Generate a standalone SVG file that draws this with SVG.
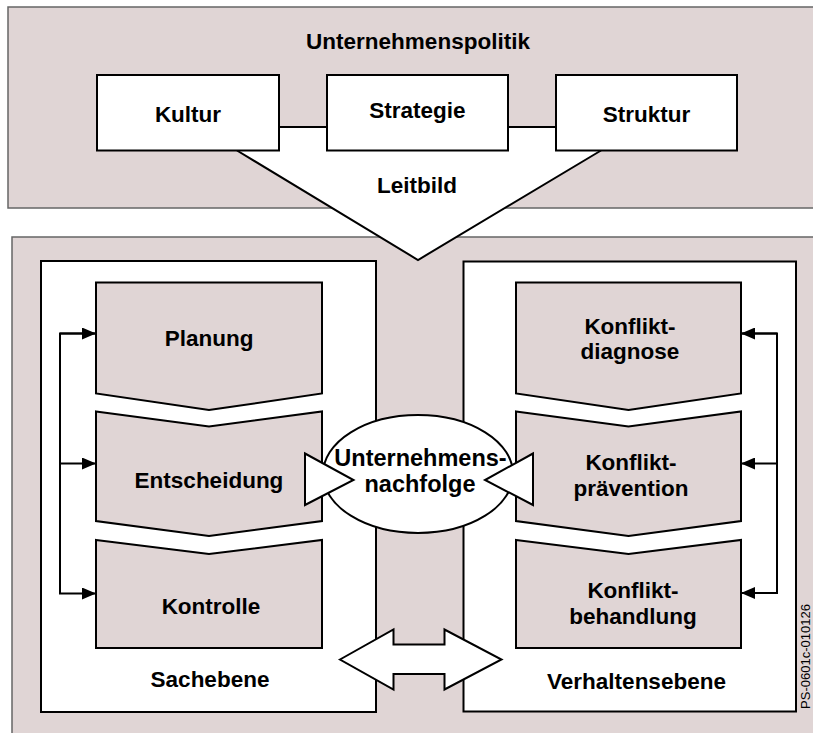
<svg xmlns="http://www.w3.org/2000/svg" width="813" height="733" viewBox="0 0 813 733">
<style>
.panel{fill:#e0d5d5;stroke:#666;stroke-width:1.5}
.wbox{fill:#fff;stroke:#000;stroke-width:2}
.pbox{fill:#e0d5d5;stroke:#000;stroke-width:2;stroke-linejoin:miter}
.t{font-family:"Liberation Sans",Arial,sans-serif;font-weight:bold;font-size:22.5px;fill:#000;text-anchor:middle}
.ln{fill:none;stroke:#000;stroke-width:2}
</style>
<defs>
<marker id="ah" markerWidth="14" markerHeight="12" refX="14" refY="6" orient="auto" markerUnits="userSpaceOnUse">
<path d="M0,0 L14,6 L0,12 Z" fill="#000"/>
</marker>
</defs>
<rect width="813" height="733" fill="#fff"/>
<g id="panel-top">
<rect class="panel" x="8" y="7" width="815" height="201"/>
<text class="t" x="418" y="49">Unternehmenspolitik</text>
</g>
<g id="panel-bottom">
<rect class="panel" x="12" y="237" width="811" height="510"/>
</g>
<g id="leitbild">
<polygon points="237,150.5 237,127 601,127 601,150.5 418,260" fill="#fff"/>
<polyline class="ln" points="237,150.5 418,260 601,150.5" stroke-width="1.5"/>
<text class="t" x="417" y="193">Leitbild</text>
</g>
<g id="sachebene">
<rect class="wbox" x="41" y="261" width="335" height="451"/>
<text class="t" x="210" y="687">Sachebene</text>
</g>
<g id="verhaltensebene">
<rect class="wbox" x="463.5" y="261.5" width="332.5" height="450"/>
<text class="t" x="636.5" y="689">Verhaltensebene</text>
</g>
<g id="kultur">
<rect class="wbox" x="97" y="75" width="182" height="75.5"/>
<text class="t" x="188" y="121.5">Kultur</text>
</g>
<g id="strategie">
<rect class="wbox" x="327" y="75" width="181" height="75.5"/>
<text class="t" x="417.5" y="117.5">Strategie</text>
</g>
<g id="struktur">
<rect class="wbox" x="556" y="75" width="181" height="75.5"/>
<text class="t" x="646.5" y="121.5">Struktur</text>
</g>
<g id="planung">
<polygon class="pbox" points="96,282.5 322,282.5 322,393.5 209,410 96,393.5"/>
<text class="t" x="209" y="346">Planung</text>
</g>
<g id="entscheidung">
<polygon class="pbox" points="96,411.5 209,426.5 322,411.5 322,521 209,536 96,521"/>
<text class="t" x="209" y="488">Entscheidung</text>
</g>
<g id="kontrolle">
<polygon class="pbox" points="96,540 209,554 322,540 322,648 96,648"/>
<text class="t" x="211" y="613.5">Kontrolle</text>
</g>
<g id="konfliktdiagnose">
<polygon class="pbox" points="516,282.5 741,282.5 741,393.5 628.5,410 516,393.5"/>
<text class="t" x="630" y="333.5">Konflikt-</text>
<text class="t" x="630" y="358.5">diagnose</text>
</g>
<g id="konfliktpraevention">
<polygon class="pbox" points="516,411.5 628.5,426.5 741,411.5 741,521 628.5,536 516,521"/>
<text class="t" x="631" y="470">Konflikt-</text>
<text class="t" x="631" y="495.5">prävention</text>
</g>
<g id="konfliktbehandlung">
<polygon class="pbox" points="516,540 628.5,554 741,540 741,648 516,648"/>
<text class="t" x="633" y="597.5">Konflikt-</text>
<text class="t" x="633" y="623.5">behandlung</text>
</g>
<g id="connectors">
<line class="ln" x1="279" y1="127" x2="327" y2="127"/>
<line class="ln" x1="508" y1="127" x2="556" y2="127"/>
<path class="ln" d="M96,333.5 H60 V593.5 H96" marker-end="url(#ah)"/>
<path class="ln" d="M60,333.5 H96" marker-end="url(#ah)"/>
<path class="ln" d="M60,463.5 H96" marker-end="url(#ah)"/>
<path class="ln" d="M741,333.5 H777 V593 H741" marker-end="url(#ah)"/>
<path class="ln" d="M777,333.5 H741" marker-end="url(#ah)"/>
<path class="ln" d="M777,463.5 H741" marker-end="url(#ah)"/>
<polygon id="doppelpfeil" points="340,659.5 393.5,629.5 393.5,644.5 444.5,644.5 444.5,629.5 501.5,659.5 444.5,689.5 444.5,674 393.5,674 393.5,689.5" fill="#fff" stroke="#000" stroke-width="2" stroke-linejoin="miter"/>
</g>
<g id="unternehmensnachfolge">
<ellipse cx="418" cy="474" rx="95" ry="59" fill="#fff" stroke="#000" stroke-width="2"/>
<polygon points="305,453.5 353.5,480 305,505" fill="#fff" stroke="#000" stroke-width="2"/>
<polygon points="533,453.5 485,480 533,505" fill="#fff" stroke="#000" stroke-width="2"/>
<text class="t" x="420.5" y="465.5" style="font-size:23.5px">Unternehmens-</text>
<text class="t" x="420" y="491.5" style="font-size:23.5px">nachfolge</text>
</g>
<text x="809.5" y="656.5" transform="rotate(-90 809.5 656.5)" style="font-family:'Liberation Sans',Arial,sans-serif;font-size:13px;text-anchor:middle;fill:#000">PS-0601c-010126</text>
</svg>
